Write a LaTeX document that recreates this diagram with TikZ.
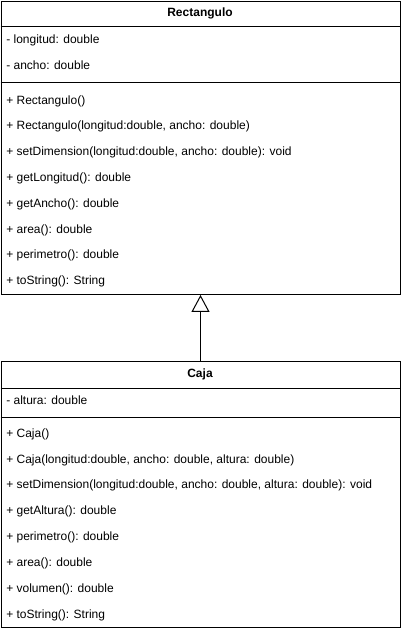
\documentclass[tikz,border=0pt]{standalone}
\usepackage{fontspec}
\setmainfont{Liberation Sans}
\usetikzlibrary{arrows.meta,positioning}

\begin{document}
\begin{tikzpicture}[
  x=0.75pt, y=-0.75pt,
  classbox/.style={draw, line width=0.75pt, anchor=north west, inner sep=0pt, minimum width=299.25pt},
  sep/.style={line width=0.75pt},
  title/.style={font=\fontsize{9}{11}\selectfont\bfseries, inner sep=0pt},
  member/.style={anchor=west, font=\fontsize{9}{11}\selectfont, inner sep=0pt},
  extends/.style={-{Triangle[open, length=12.75pt, width=13.5pt]}, line width=0.75pt}
]
\useasboundingbox (0,0) rectangle (401,632);

% ---------- Class Rectangulo ----------
\node[classbox, minimum height=220.1pt] (rect) at (0.5,0.5) {};
\node[title] (rectTitle) at (200,13) {Rectangulo};
\draw[sep] (0.5,26) -- (399.5,26);
\node[member] (rectLong) at (6,40) {- longitud: double};
\node[member] (rectAncho) at (6,65) {- ancho: double};
\draw[sep] (0.5,82) -- (399.5,82);
\foreach \k/\txt in {0/{+ Rectangulo()},
                     1/{+ Rectangulo(longitud:double, ancho: double)},
                     2/{+ setDimension(longitud:double, ancho: double): void},
                     3/{+ getLongitud(): double},
                     4/{+ getAncho(): double},
                     5/{+ area(): double},
                     6/{+ perimetro(): double},
                     7/{+ toString(): String}}
  \node[member] (rectM\k) at (6,101+25.8*\k) {\txt};

% ---------- Class Caja ----------
\node[classbox, minimum height=199.5pt] (caja) at (0.5,361) {};
\node[title] (cajaTitle) at (200,374.5) {Caja};
\draw[sep] (0.5,388) -- (399.5,388);
\node[member] (cajaAlt) at (6,400) {- altura: double};
\draw[sep] (0.5,417) -- (399.5,417);
\foreach \k/\txt in {0/{+ Caja()},
                     1/{+ Caja(longitud:double, ancho: double, altura: double)},
                     2/{+ setDimension(longitud:double, ancho: double, altura: double): void},
                     3/{+ getAltura(): double},
                     4/{+ perimetro(): double},
                     5/{+ area(): double},
                     6/{+ volumen(): double},
                     7/{+ toString(): String}}
  \node[member] (cajaM\k) at (6,434+25.9*\k) {\txt};

% ---------- Inheritance ----------
\draw[extends] (caja.north) -- (rect.south);

\end{tikzpicture}
\end{document}
